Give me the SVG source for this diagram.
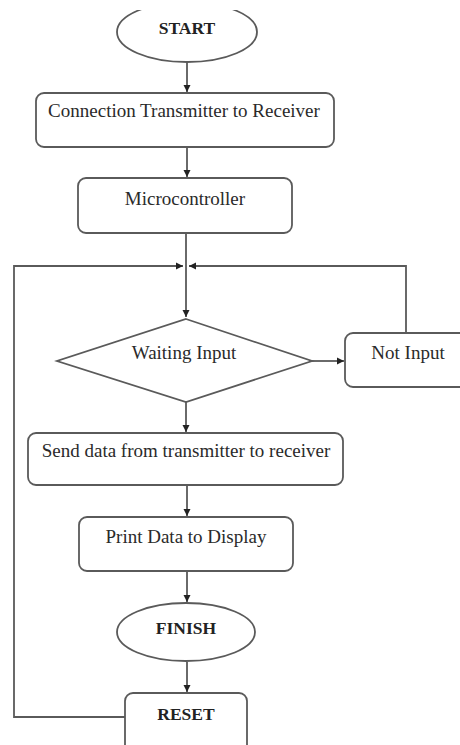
<svg xmlns="http://www.w3.org/2000/svg" width="460" height="745" viewBox="0 0 460 745">
<style>
.n{fill:#fff;stroke:#5a5a5a;stroke-width:1.8}
.t{font-family:"Liberation Serif","Times New Roman",serif;font-size:19px;fill:#2a2a2a;text-anchor:middle}
.b{font-family:"Liberation Serif","Times New Roman",serif;font-size:17.5px;font-weight:bold;fill:#222;text-anchor:middle}
.c{fill:none;stroke:#5a5a5a;stroke-width:1.8}
</style>
<defs>
<marker id="ah" viewBox="0 0 10 10" refX="10" refY="5" markerWidth="4" markerHeight="4" orient="auto" markerUnits="strokeWidth">
<path d="M0,0 L10,5 L0,10 z" fill="#222"/>
</marker>
<clipPath id="topclip"><rect x="0" y="10" width="460" height="735"/></clipPath>
</defs>
<rect width="460" height="745" fill="#fff"/>
<g id="connectors">
<path class="c" d="M187,62 V92" marker-end="url(#ah)"/>
<path class="c" d="M187,147 V177" marker-end="url(#ah)"/>
<path class="c" d="M186,233 V317" marker-end="url(#ah)"/>
<path class="c" d="M186,402 V432" marker-end="url(#ah)"/>
<path class="c" d="M187,485 V516" marker-end="url(#ah)"/>
<path class="c" d="M187,571 V602" marker-end="url(#ah)"/>
<path class="c" d="M187,662 V692" marker-end="url(#ah)"/>
<path class="c" d="M312,361 H344" marker-end="url(#ah)"/>
<path class="c" d="M406,333 V266 H189" marker-end="url(#ah)"/>
<path class="c" d="M125,717 H14 V266 H183" marker-end="url(#ah)"/>
</g>
<g id="start">
<ellipse class="n" cx="187" cy="32" rx="70" ry="30" clip-path="url(#topclip)"/>
<text class="b" x="187" y="34">START</text>
</g>
<g id="connection">
<rect class="n" x="36" y="93" width="298" height="54" rx="8"/>
<text class="t" x="184" y="117">Connection Transmitter to Receiver</text>
</g>
<g id="microcontroller">
<rect class="n" x="78" y="178" width="214" height="55" rx="8"/>
<text class="t" x="185" y="205">Microcontroller</text>
</g>
<g id="waiting">
<polygon class="n" points="186,319 312,361 186,402 57,361"/>
<text class="t" x="184" y="359">Waiting Input</text>
</g>
<g id="notinput">
<rect class="n" x="345" y="333" width="124" height="54" rx="8"/>
<text class="t" x="408" y="359">Not Input</text>
</g>
<g id="send">
<rect class="n" x="28" y="433" width="315" height="52" rx="8"/>
<text class="t" x="186" y="457">Send data from transmitter to receiver</text>
</g>
<g id="print">
<rect class="n" x="79" y="517" width="214" height="54" rx="8"/>
<text class="t" x="186" y="543">Print Data to Display</text>
</g>
<g id="finish">
<ellipse class="n" cx="186" cy="632" rx="69" ry="29"/>
<text class="b" x="186" y="634">FINISH</text>
</g>
<g id="reset">
<rect class="n" x="125" y="693" width="122" height="60" rx="8"/>
<text class="b" x="186" y="720">RESET</text>
</g>
</svg>
